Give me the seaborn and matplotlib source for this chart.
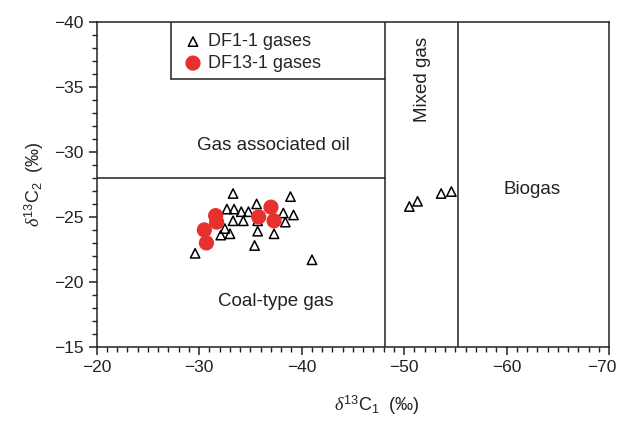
import matplotlib
matplotlib.use("Agg")
import matplotlib.pyplot as plt
import matplotlib.transforms as mtransforms
import seaborn as sns
import pandas as pd
from matplotlib.ticker import MultipleLocator

sns.set_theme(style="white")
plt.rcParams['font.family'] = ['Liberation Sans', 'DejaVu Sans']
plt.rcParams['mathtext.fontset'] = 'custom'
plt.rcParams['mathtext.rm'] = 'Liberation Sans'
plt.rcParams['mathtext.it'] = 'Liberation Serif:italic'

# DF1-1 gases (triangles)
df1_c1 = [-33.3, -38.9, -32.7, -33.4, -34.1, -34.8, -35.6, -38.2, -39.2, -33.3, -34.3,
          -35.7, -38.4, -32.5, -32.1, -33.0, -35.7, -37.3, -35.4, -29.6, -41.0,
          -50.5, -51.3, -53.6, -54.6]
df1_c2 = [-26.8, -26.56, -25.6, -25.6, -25.4, -25.4, -26.0, -25.3, -25.15, -24.7, -24.7,
          -24.7, -24.6, -24.1, -23.6, -23.7, -23.9, -23.7, -22.8, -22.2, -21.7,
          -25.8, -26.2, -26.8, -26.95]
# DF13-1 gases (red circles)
df13_c1 = [-31.6, -31.7, -30.5, -30.7, -35.8, -37.0, -37.3]
df13_c2 = [-25.1, -24.6, -24.0, -23.0, -25.0, -25.75, -24.7]

# Classification boundaries
oil_boundary_c2 = -28.0
mixed_left_c1 = -48.1
mixed_right_c1 = -55.2

df1 = pd.DataFrame({"c1": df1_c1, "c2": df1_c2})
df13 = pd.DataFrame({"c1": df13_c1, "c2": df13_c2})

fig = plt.figure(figsize=(6.22, 4.22), dpi=100)
ax = fig.add_axes([0.1555, 0.178, 0.824, 0.770])

sns.scatterplot(data=df1, x="c1", y="c2", ax=ax, marker="^", s=45,
                facecolor="none", edgecolor="black", linewidth=1.1,
                label="DF1-1 gases", zorder=3)
sns.scatterplot(data=df13, x="c1", y="c2", ax=ax, marker="o", s=120,
                color="#e8302f", edgecolor="none", linewidth=0,
                label="DF13-1 gases", zorder=4)

ax.set_xlim(-20, -70)
ax.set_ylim(-15, -40)

lc = "#222222"
ax.plot([-20, mixed_left_c1], [oil_boundary_c2, oil_boundary_c2], color=lc, lw=1.1)
ax.plot([mixed_left_c1, mixed_left_c1], [-15, -40], color=lc, lw=1.1)
ax.plot([mixed_right_c1, mixed_right_c1], [-15, -40], color=lc, lw=1.1)
# legend box
ax.plot([-27.2, mixed_left_c1], [-35.6, -35.6], color=lc, lw=1.1)
ax.plot([-27.2, -27.2], [-40, -35.6], color=lc, lw=1.1)

leg = ax.legend(loc="upper left", bbox_to_anchor=(0.135, 1.015), frameon=False,
                fontsize=13, handletextpad=0.25, borderpad=0.4, labelspacing=0.25,
                handlelength=1.2)

ax.text(-37.2, -30.5, "Gas associated oil", fontsize=13.5, ha="center", va="center", color="#222222")
ax.text(-37.5, -18.5, "Coal-type gas", fontsize=13.5, ha="center", va="center", color="#222222")
ax.text(-51.8, -35.6, "Mixed gas", fontsize=13.5, ha="center", va="center", rotation=90, color="#222222")
ax.text(-62.5, -27.1, "Biogas", fontsize=13.5, ha="center", va="center", color="#222222")

ax.xaxis.set_major_locator(MultipleLocator(10))
ax.xaxis.set_minor_locator(MultipleLocator(1))
ax.yaxis.set_major_locator(MultipleLocator(5))
ax.yaxis.set_minor_locator(MultipleLocator(1))
ax.tick_params(which="major", direction="out", length=6, width=1.1, color=lc,
               labelsize=12.5, labelcolor="#222222", bottom=True, left=True)
ax.tick_params(which="minor", direction="out", length=3.5, width=1, color=lc,
               bottom=True, left=True)
for sp in ax.spines.values():
    sp.set_color(lc)
    sp.set_linewidth(1.1)

ax.set_xlabel(r"$\it{\delta}^{13}$C$_1$  (‰)", fontsize=13, color="#222222")
ax.xaxis.set_label_coords(0.547, -0.145)
ax.set_ylabel(r"$\it{\delta}^{13}$C$_2$  (‰)", fontsize=13, color="#222222", labelpad=6)

# nudge the last x tick label so it stays inside the figure
fig.canvas.draw()
labels = ax.get_xticklabels()
for lab in labels:
    if lab.get_text().endswith("70"):
        lab.set_transform(lab.get_transform() +
                          mtransforms.ScaledTranslation(-5 / 72, 0, fig.dpi_scale_trans))

fig.savefig("out.png", dpi=100)
